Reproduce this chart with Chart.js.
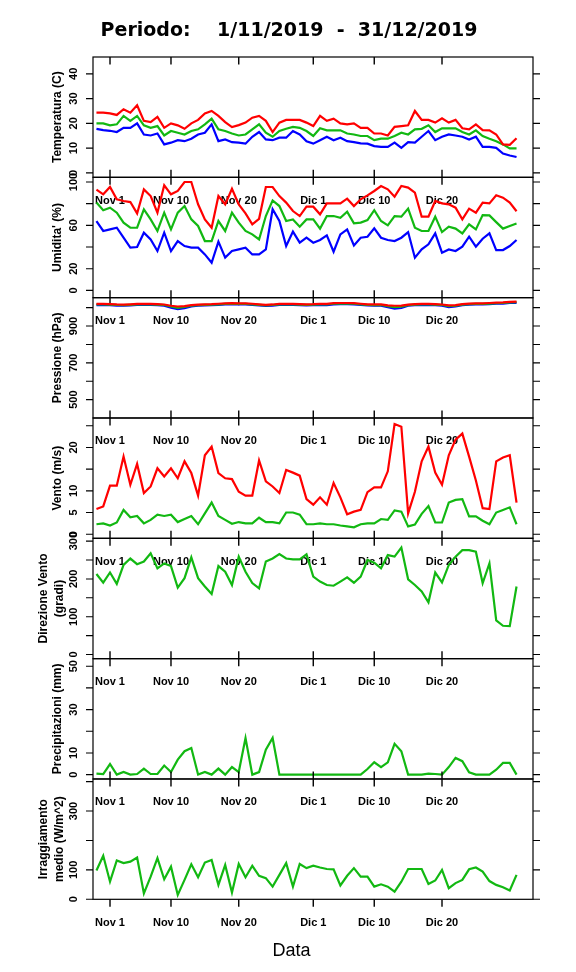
<!DOCTYPE html>
<html>
<head>
<meta charset="utf-8">
<script src="https://cdn.jsdelivr.net/npm/chart.js@4.4.1/dist/chart.umd.min.js"></script>
<style>
html,body{margin:0;padding:0;background:#fff;}
#wrap{position:relative;width:576px;height:972px;background:#fff;overflow:hidden;}
#wrap canvas{position:absolute;left:0;top:0;}
</style>
</head>
<body>
<div id="wrap"></div>
<script>
// ---- data (day index: 1 = 1 Nov 2019, 31 = 1 Dic 2019, 61 = 31 Dic 2019) ----
const days = [-1,0,1,2,3,4,5,6,7,8,9,10,11,12,13,14,15,16,17,18,19,20,21,22,23,24,25,26,27,28,29,30,
  31,32,33,34,35,36,37,38,39,40,41,42,43,44,45,46,47,48,49,50,51,52,53,54,55,56,57,58,59,60,61];
const xTickDays = [1,10,20,31,40,50];
const xTickLabels = ['Nov 1','Nov 10','Nov 20','Dic 1','Dic 10','Dic 20'];

const tempMax = [24.3,24.3,24.0,23.4,25.7,24.3,27.3,21.0,20.5,22.6,18.2,20.0,19.2,17.8,20.0,21.4,24.0,25.0,23.0,20.5,18.5,19.3,20.3,22.3,23.0,21.0,16.5,20.3,21.4,21.4,21.4,20.3,
  18.9,23.0,21.0,21.9,20.0,19.6,20.0,18.2,18.2,15.9,15.9,15.1,18.6,18.9,19.2,25.0,21.4,21.4,20.3,22.0,20.3,21.4,18.0,17.6,19.6,17.3,17.2,15.5,11.5,11.3,14.0];
const tempMean = [20.0,20.0,19.2,19.6,23.0,21.0,23.0,19.2,18.2,18.9,15.1,16.9,16.2,15.5,16.9,17.6,19.6,21.9,17.6,16.9,15.9,15.1,15.5,17.6,19.6,16.2,14.6,16.9,17.8,18.6,18.2,16.9,
  14.9,18.0,17.2,17.2,17.2,15.9,15.5,14.9,14.9,13.2,13.8,13.8,14.9,16.2,15.5,17.6,17.8,19.2,16.5,18.0,18.0,18.0,16.5,15.5,17.2,14.9,13.8,12.8,11.5,9.9,9.9];
const tempMin = [17.8,17.3,17.0,16.5,18.2,18.2,20.0,15.5,15.1,15.9,11.5,12.2,13.2,12.8,13.8,15.5,16.2,19.6,12.8,13.5,12.4,12.2,11.8,14.6,16.5,13.5,13.2,14.2,14.2,16.9,15.5,12.8,
  11.8,13.2,14.6,13.2,14.2,12.8,12.4,11.9,11.8,10.8,10.5,10.5,12.2,10.1,12.4,12.2,14.6,16.9,13.2,14.6,15.5,15.1,14.6,13.5,14.6,10.5,10.5,10.1,7.8,7.0,6.4];

const humMax = [93.0,88.6,95.4,84.0,82.5,81.5,71.0,93.2,87.0,71.7,97.0,88.6,91.7,100.0,100.0,79.4,65.5,57.8,87.0,79.4,93.8,79.4,71.0,61.0,66.0,95.4,95.4,87.0,81.0,73.2,68.6,77.2,
  77.2,70.2,80.3,80.3,80.3,84.6,77.8,84.0,87.7,91.7,96.3,93.2,86.5,96.3,94.8,90.2,68.0,68.0,82.5,80.3,79.4,76.3,65.5,75.4,71.7,81.0,80.3,87.7,85.5,81.0,73.0];
const humMean = [81.0,74.0,76.3,71.7,62.5,57.8,57.8,74.8,65.5,54.8,71.7,56.3,71.7,77.8,65.5,59.4,45.5,45.5,64.0,54.8,71.7,62.5,54.8,51.7,47.0,68.6,83.0,77.8,64.0,65.5,58.8,65.5,
  65.5,57.0,68.6,68.6,67.0,72.6,61.8,62.5,64.9,74.0,64.0,60.0,68.6,68.0,75.4,57.8,54.8,54.8,68.0,53.8,58.8,57.0,52.6,61.0,56.3,69.5,69.2,63.0,57.0,59.4,61.8];
const humMin = [64.0,54.8,56.3,57.8,48.6,39.4,40.0,53.2,47.0,36.3,53.2,36.3,45.5,40.9,39.4,39.4,33.2,25.5,45.0,30.2,36.3,37.8,39.4,33.2,33.2,37.8,74.8,64.0,40.9,54.2,44.0,48.6,
  44.0,46.5,50.8,35.7,51.7,56.3,41.5,48.6,49.5,57.2,48.6,46.5,45.5,48.6,53.8,30.2,37.8,42.5,52.6,34.8,37.8,36.3,40.3,49.5,40.3,47.7,52.6,37.2,37.2,40.9,46.5];

const pressMax = [1020,1020,1019,1017,1016,1018,1020,1021,1020,1019,1017,1010,1006,1008,1013,1016,1018,1019,1021,1023,1024,1023,1023,1021,1018,1015,1017,1020,1021,1020,1019,1018,
  1019,1021,1020,1024,1025,1025,1024,1021,1018,1017,1017,1012,1010,1011,1016,1019,1020,1020,1019,1017,1012,1013,1019,1022,1023,1023,1025,1027,1028,1031,1032];
const pressMean = [1017,1017,1016,1014,1013,1015,1017,1018,1017,1016,1014,1006,999,1004,1010,1013,1015,1016,1018,1020,1021,1020,1020,1018,1015,1012,1014,1017,1018,1017,1016,1015,
  1016,1018,1017,1021,1022,1022,1021,1018,1015,1014,1014,1008,1002,1005,1013,1016,1017,1017,1016,1014,1008,1010,1016,1019,1020,1020,1022,1024,1025,1028,1029];
const pressMin = [1014,1014,1013,1011,1010,1012,1014,1015,1014,1013,1011,1000,992,997,1007,1010,1012,1013,1015,1017,1018,1017,1017,1015,1012,1009,1011,1014,1015,1014,1013,1012,
  1013,1015,1014,1018,1019,1019,1018,1015,1012,1011,1011,1002,995,998,1010,1013,1014,1014,1013,1011,1003,1006,1013,1016,1017,1017,1019,1021,1022,1025,1026];

const windMax = [5.8,6.4,11.2,11.2,17.9,11.4,16.2,9.5,11.0,15.2,13.3,15.2,12.9,16.8,14.1,8.9,18.2,20.2,14.1,12.9,12.7,9.8,8.9,8.9,17.0,12.2,11.0,9.5,14.8,14.2,13.5,8.1,
  6.8,8.5,6.8,11.8,8.5,4.6,5.2,5.6,9.7,10.8,10.8,14.5,25.4,24.8,4.8,9.8,16.8,20.2,14.2,11.4,18.2,21.8,23.2,17.9,12.4,6.0,5.8,16.8,17.7,18.2,7.3];
const windMean = [2.3,2.5,2.0,2.7,5.6,3.9,4.2,2.5,3.3,4.5,4.2,4.5,2.8,3.5,4.2,2.3,4.8,7.3,4.2,3.3,2.4,2.8,2.5,2.5,3.8,2.8,2.8,2.5,5.0,5.0,4.5,2.3,
  2.3,2.5,2.3,2.3,2.0,1.8,1.6,2.3,2.5,2.5,3.5,3.3,5.5,5.2,1.8,2.2,4.7,6.5,2.7,2.7,7.3,7.9,8.1,4.1,4.1,3.1,2.3,5.0,5.6,6.2,2.3];

const windDir = [213,190,217,187,237,254,239,246,268,228,241,234,177,202,257,202,180,160,234,219,184,259,219,189,175,246,254,266,254,252,252,265,
  206,193,184,182,193,204,190,206,250,243,228,263,259,283,199,184,167,138,217,191,237,259,276,276,272,189,241,90,76,75,180];

const rain = [0.5,0.3,4.9,0.0,1.2,0.0,0.3,2.8,0.3,0.3,4.2,1.2,6.9,10.8,12.3,0.0,1.2,0.0,2.8,0.0,3.5,1.2,16.9,0.0,1.2,11.5,16.9,0.0,0.0,0.0,0.0,0.0,
  0.0,0.0,0.0,0.0,0.0,0.0,0.0,0.0,2.6,5.7,3.5,5.7,14.2,10.8,0.0,0.0,0.0,0.5,0.3,0.0,3.5,7.7,6.2,1.1,0.0,0.0,0.0,2.3,5.4,5.4,0.0];

const radiation = [98,148,60,132,123,128,142,20,77,140,68,111,15,66,119,75,125,134,49,117,23,120,75,114,80,72,43,83,123,43,120,106,
  114,108,103,102,47,80,106,77,77,43,51,43,26,60,103,103,103,52,64,100,38,55,66,102,108,94,62,49,41,30,83];

// ---- style ----
const RED = '#FF0000', GREEN = '#12B812', BLUE = '#0000FF';
const TOP0 = 57, PANEL_H = 120.33, PLOT_L = 93, PLOT_R = 533, W = 576, H = 972;
const X_MIN = -1.51, X_MAX = 63.43;

const panels = [
  {title:['Temperatura (C)'], min:-1.8, max:46.8, ticks:[0,10,20,30,40], labels:[0,10,20,30,40],
   series:[[tempMax,RED],[tempMean,GREEN],[tempMin,BLUE]]},
  {title:["Umidita' (%)"], min:-6.7, max:104.3, ticks:[0,20,40,60,80,100], labels:[0,20,60,100],
   series:[[humMax,RED],[humMean,GREEN],[humMin,BLUE]]},
  {title:['Pressione (hPa)'], min:400.5, max:1054, ticks:[500,600,700,800,900,1000], labels:[500,700,900],
   series:[[pressMax,RED],[pressMean,GREEN],[pressMin,BLUE]]},
  {title:['Vento (m/s)'], min:-0.95, max:26.8, ticks:[0,5,10,15,20,25], labels:[0,5,10,20],
   series:[[windMax,RED],[windMean,GREEN]]},
  {title:['Direzione Vento','(gradi)'], min:-11, max:307.5, ticks:[0,50,100,150,200,250,300], labels:[0,100,200,300],
   series:[[windDir,GREEN]]},
  {title:['Precipitazioni (mm)'], min:-2, max:53.5, ticks:[0,10,20,30,40,50], labels:[0,10,30,50],
   series:[[rain,GREEN]]},
  {title:['Irraggiamento','medio (W/m^2)'], min:0, max:409, ticks:[0,100,200,300,400], labels:[0,100,300],
   series:[[radiation,GREEN]]}
];

function decorPlugin(p, idx, last) {
  return {
    id: 'decor' + idx,
    afterDraw(chart) {
      const ctx = chart.ctx, a = chart.chartArea, xs = chart.scales.x, ys = chart.scales.y;
      ctx.save();
      ctx.strokeStyle = '#000';
      ctx.fillStyle = '#000';
      // frame
      ctx.lineWidth = 1.2;
      ctx.strokeRect(a.left, a.top, a.right - a.left, a.bottom - a.top);
      // y ticks left and right
      ctx.lineWidth = 1.1;
      ctx.beginPath();
      p.ticks.forEach(v => {
        const y = ys.getPixelForValue(v);
        ctx.moveTo(a.left - 7, y); ctx.lineTo(a.left, y);
        ctx.moveTo(a.right, y); ctx.lineTo(a.right + 7, y);
      });
      ctx.stroke();
      // x ticks
      ctx.lineWidth = 1.4;
      ctx.beginPath();
      xTickDays.forEach(d => {
        const x = xs.getPixelForValue(d);
        ctx.moveTo(x, a.bottom); ctx.lineTo(x, a.bottom + 7.5);
        if (idx === 0) { ctx.moveTo(x, a.top); ctx.lineTo(x, a.top + 7.5); }
        else { ctx.moveTo(x, a.top); ctx.lineTo(x, a.top - 7.5); }
      });
      ctx.stroke();
      // x labels below the panel
      ctx.font = 'bold 11px "Liberation Sans", Arial, sans-serif';
      ctx.textAlign = 'center';
      ctx.textBaseline = 'alphabetic';
      xTickDays.forEach((d, i) => {
        ctx.fillText(xTickLabels[i], xs.getPixelForValue(d), a.bottom + 26.5);
      });
      // y tick labels (rotated)
      ctx.font = 'bold 11px "Liberation Sans", Arial, sans-serif';
      p.labels.forEach(v => {
        const y = ys.getPixelForValue(v);
        ctx.save(); ctx.translate(77, y); ctx.rotate(-Math.PI / 2);
        ctx.fillText(String(v), 0, 0); ctx.restore();
      });
      // axis title (rotated)
      ctx.font = 'bold 12px "Liberation Sans", Arial, sans-serif';
      const cy = (a.top + a.bottom) / 2;
      const xs0 = p.title.length === 1 ? [61] : [47, 62.5];
      p.title.forEach((t, i) => {
        ctx.save(); ctx.translate(xs0[i], cy); ctx.rotate(-Math.PI / 2);
        ctx.fillText(t, 0, 0); ctx.restore();
      });
      if (idx === 0) {
        ctx.font = 'bold 19px "DejaVu Sans", sans-serif';
        ctx.fillText('Periodo:    1/11/2019  -  31/12/2019', 289, 36);
      }
      if (last) {
        ctx.font = '18px "Liberation Sans", Arial, sans-serif';
        ctx.fillText('Data', 291.5, 956);
      }
      ctx.restore();
    }
  };
}

const wrap = document.getElementById('wrap');
panels.forEach((p, idx) => {
  const cv = document.createElement('canvas');
  cv.width = W; cv.height = H;
  cv.style.width = W + 'px'; cv.style.height = H + 'px';
  wrap.appendChild(cv);
  const top = TOP0 + idx * PANEL_H, bottom = top + PANEL_H;
  new Chart(cv, {
    type: 'line',
    data: {
      datasets: p.series.map(([vals, col]) => ({
        data: days.map((d, i) => ({x: d, y: vals[i]})),
        borderColor: col,
        borderWidth: 2.2,
        pointRadius: 0,
        tension: 0,
        fill: false
      }))
    },
    options: {
      responsive: false,
      animation: false,
      events: [],
      layout: {padding: {left: PLOT_L, right: W - PLOT_R, top: top, bottom: H - bottom}},
      plugins: {legend: {display: false}, tooltip: {enabled: false}, title: {display: false}},
      scales: {
        x: {type: 'linear', min: X_MIN, max: X_MAX, display: false},
        y: {type: 'linear', min: p.min, max: p.max, display: false}
      }
    },
    plugins: [decorPlugin(p, idx, idx === panels.length - 1)]
  });
});
</script>
</body>
</html>
